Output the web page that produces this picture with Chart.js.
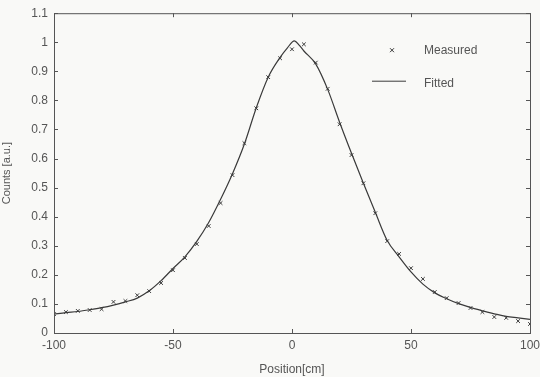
<!DOCTYPE html>
<html>
<head>
<meta charset="utf-8">
<script src="https://cdn.jsdelivr.net/npm/chart.js@4"></script>
<style>
  html, body { margin: 0; padding: 0; background: #f9f9f7; }
  #wrap { width: 540px; height: 377px; }
</style>
</head>
<body>
<div id="wrap"><canvas id="c" width="540" height="377"></canvas></div>
<script>
// measured points (every 5 cm)
const measuredX = [-100, -95, -90, -85, -80, -75, -70, -65, -60, -55, -50, -45, -40, -35, -30, -25, -20, -15, -10, -5,
  0, 5, 10, 15, 20, 25, 30, 35, 40, 45, 50, 55, 60, 65, 70, 75, 80, 85, 90, 95, 100];
const measuredY = [0.065, 0.072, 0.076, 0.079, 0.082, 0.107, 0.110, 0.130, 0.144, 0.172, 0.216, 0.258, 0.306, 0.368, 0.447, 0.543, 0.653, 0.773, 0.880, 0.945,
  0.976, 0.993, 0.930, 0.840, 0.718, 0.612, 0.515, 0.412, 0.316, 0.272, 0.223, 0.186, 0.141, 0.120, 0.103, 0.086, 0.072, 0.055, 0.052, 0.041, 0.031];

// fitted curve
const fittedX = [-100, -95, -90, -85, -80, -75, -70, -65, -60, -55, -50, -45, -40, -35, -30, -25, -20, -15, -10, -5, -2,
  1, 3, 5, 10, 15, 20, 25, 30, 35, 40, 45, 50, 55, 60, 65, 70, 75, 80, 85, 90, 95, 100];
const fittedY = [0.065, 0.070, 0.074, 0.080, 0.087, 0.096, 0.107, 0.120, 0.145, 0.180, 0.222, 0.262, 0.315, 0.380, 0.460, 0.548, 0.650, 0.775, 0.880, 0.948, 0.980,
  1.005, 0.990, 0.970, 0.925, 0.838, 0.725, 0.618, 0.515, 0.415, 0.318, 0.262, 0.210, 0.168, 0.138, 0.118, 0.101, 0.088, 0.076, 0.066, 0.057, 0.052, 0.047];

const xTicks = [-100, -50, 0, 50, 100];
const yTicks = [0, 0.1, 0.2, 0.3, 0.4, 0.5, 0.6, 0.7, 0.8, 0.9, 1, 1.1];

const seriesNames = ['Measured', 'Fitted'];
const ink = '#3a3a3a';
const textColor = '#555';
const fontFamily = '"Liberation Sans", Arial, sans-serif';

// box round the plot, inward ticks on all four sides, legend inside
const framePlugin = {
  id: 'frame',
  afterDraw(chart) {
    const { ctx, chartArea: a, scales } = chart;
    ctx.save();
    ctx.strokeStyle = '#555';
    ctx.lineWidth = 1;
    ctx.strokeRect(a.left + 0.5, a.top + 0.5, a.right - a.left, a.bottom - a.top);
    const len = 4;
    ctx.beginPath();
    xTicks.forEach(v => {
      const px = Math.round(scales.x.getPixelForValue(v)) + 0.5;
      ctx.moveTo(px, a.bottom); ctx.lineTo(px, a.bottom - len);
      ctx.moveTo(px, a.top); ctx.lineTo(px, a.top + len);
    });
    yTicks.forEach(v => {
      const py = Math.round(scales.y.getPixelForValue(v)) + 0.5;
      ctx.moveTo(a.left, py); ctx.lineTo(a.left + len, py);
      ctx.moveTo(a.right, py); ctx.lineTo(a.right - len, py);
    });
    ctx.stroke();

    // legend
    const lx = a.right - 138, tx = a.right - 106;
    const y1 = a.top + 37, y2 = a.top + 68;
    ctx.strokeStyle = ink;
    ctx.beginPath();
    ctx.moveTo(lx - 2, y1 - 2); ctx.lineTo(lx + 2, y1 + 2);
    ctx.moveTo(lx - 2, y1 + 2); ctx.lineTo(lx + 2, y1 - 2);
    ctx.stroke();
    ctx.beginPath();
    ctx.moveTo(lx - 20, y2); ctx.lineTo(lx + 14, y2);
    ctx.stroke();
    ctx.fillStyle = textColor;
    ctx.font = '12px ' + fontFamily;
    ctx.textBaseline = 'middle';
    ctx.fillText(seriesNames[0], tx, y1);
    ctx.fillText(seriesNames[1], tx, y2 + 2);
    ctx.restore();
  }
};

new Chart(document.getElementById('c'), {
  type: 'scatter',
  data: {
    datasets: [
      {
        label: seriesNames[0],
        data: measuredX.map((x, i) => ({ x, y: measuredY[i] })),
        pointStyle: 'crossRot',
        pointRadius: 2.6,
        pointBorderWidth: 1,
        pointBorderColor: ink,
        showLine: false
      },
      {
        label: seriesNames[1],
        data: fittedX.map((x, i) => ({ x, y: fittedY[i] })),
        showLine: true,
        borderColor: ink,
        borderWidth: 1.2,
        pointRadius: 0,
        cubicInterpolationMode: 'monotone'
      }
    ]
  },
  options: {
    responsive: false,
    animation: false,
    layout: { padding: { top: 13, right: 10, left: 0, bottom: 0 } },
    plugins: {
      legend: { display: false },
      tooltip: { enabled: false }
    },
    scales: {
      x: {
        type: 'linear',
        min: -100, max: 100,
        afterBuildTicks: s => { s.ticks = xTicks.map(v => ({ value: v })); },
        afterFit: s => { s.height = 44; s.paddingRight = 0; s.paddingLeft = 0; },
        grid: { display: false, drawTicks: false },
        border: { display: false },
        ticks: { color: textColor, padding: 5, font: { family: fontFamily, size: 12 }, maxRotation: 0 },
        title: { display: true, text: 'Position[cm]', color: textColor, padding: { top: 1, bottom: 0 }, font: { family: fontFamily, size: 12 } }
      },
      y: {
        type: 'linear',
        min: 0, max: 1.1,
        afterBuildTicks: s => { s.ticks = yTicks.map(v => ({ value: v })); },
        afterFit: s => { s.width = 54; },
        grid: { display: false, drawTicks: false },
        border: { display: false },
        ticks: { color: textColor, padding: 6, font: { family: fontFamily, size: 12 }, callback: v => String(Math.round(v * 10) / 10) },
        title: { display: true, text: 'Counts [a.u.]', color: textColor, padding: { top: 0, bottom: 1 }, font: { family: fontFamily, size: 11 } }
      }
    }
  },
  plugins: [framePlugin]
});
</script>
</body>
</html>
